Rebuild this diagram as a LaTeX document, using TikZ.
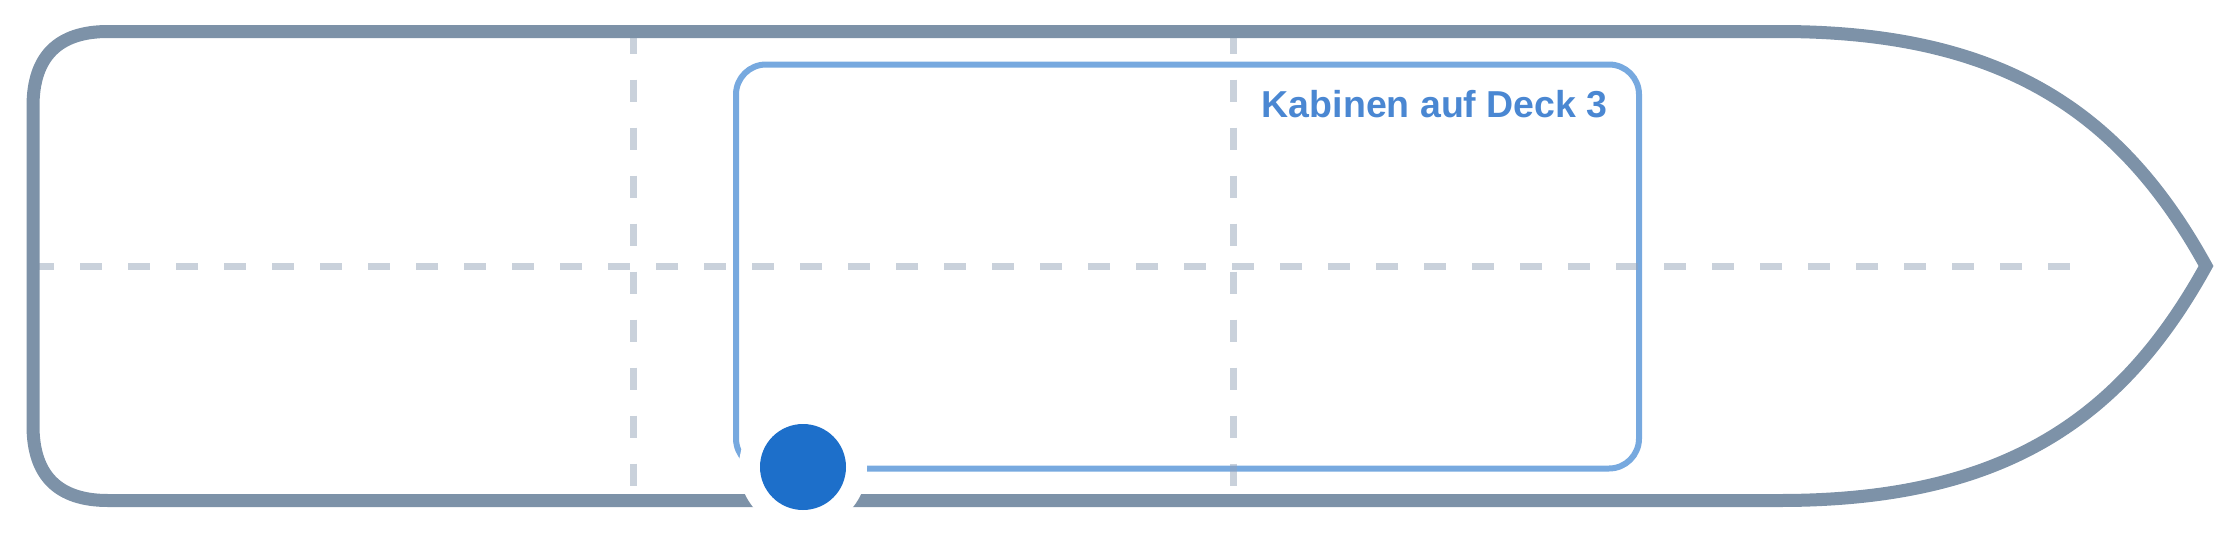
\documentclass[tikz,border=0pt]{standalone}
\usepackage{fontspec}
\setmainfont{Liberation Sans}
\definecolor{hullcol}{HTML}{7D92A8}
\definecolor{guidecol}{HTML}{94A3B8}
\definecolor{accent}{HTML}{1D6FCA}
\definecolor{labelblue}{HTML}{4A87D2}
\begin{document}
\begin{tikzpicture}[x=1pt,y=-1pt,
  hullline/.style={draw=hullcol,line width=13pt,line join=miter},
  guideline/.style={draw=guidecol,draw opacity=0.5,line width=7pt,dash pattern=on 22pt off 26pt},
  zonebox/.style={draw=accent,draw opacity=0.6,line width=6pt,rounded corners=30pt},
  marker/.style={circle,fill=accent,minimum size=86pt,inner sep=0pt},
  halo/.style={circle,fill=white,minimum size=128pt,inner sep=0pt},
  zonelabel/.style={text=labelblue,font=\fontsize{37.5}{40}\selectfont\bfseries,inner sep=0pt}]
\useasboundingbox (0,0) rectangle (2240,533);
% cabin zone
\draw[zonebox] (736,64.5) rectangle (1639,468.5);
% guide lines
\draw[guideline] (32,266) -- (2070,266);
\draw[guideline] (633,31.5) -- (633,500.5);
\draw[guideline] (1233.5,31.5) -- (1233.5,500.5);
% hull
\draw[hullline] (2206,266) .. controls (2120,110) and (2000,31.5) .. (1780,31.5)
  -- (108,31.5) .. controls (58,31.5) and (33,56.5) .. (33,106.5)
  -- (33,425.5) .. controls (33,475.5) and (58,500.5) .. (108,500.5)
  -- (1780,500.5) .. controls (2000,500.5) and (2120,422) .. cycle;
% label
\node[zonelabel,anchor=base east] (deck) at (1608,117) {Kabinen auf Deck 3};
% marker
\node[halo] (halo) at (803,467) {};
\node[marker] (dot) at (803,467) {};
\end{tikzpicture}
\end{document}
